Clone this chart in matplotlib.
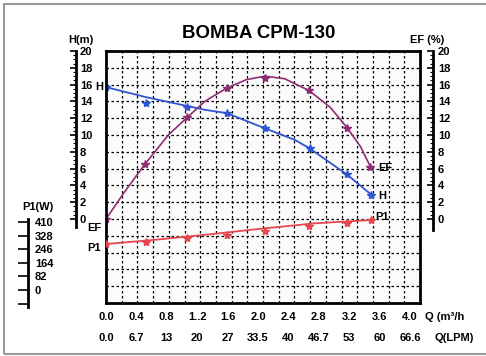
import matplotlib
matplotlib.use("Agg")
import matplotlib.pyplot as plt
import matplotlib.transforms as mtransforms
import matplotlib.patches as mpatches
import numpy as np

plt.rcParams["font.family"] = ["Liberation Sans", "DejaVu Sans"]
plt.rcParams["font.weight"] = "bold"

# --- data ---
q_labels = ["0.0", "0.4", "0.8", "1..2", "1.6", "2.0", "2.4", "2.8", "3.2", "3.6", "4.0"]
lpm_labels = ["0.0", "6.7", "13", "20", "27", "33.5", "40", "46.7", "53", "60", "66.6"]
q_label_pos = [0.0, 0.4, 0.8, 1.2, 1.6, 2.0, 2.4, 2.8, 3.2, 3.6, 4.0]

# head H (m)
h_line_q = [0.0, 0.53, 1.07, 1.30, 1.59, 2.09, 2.49, 2.68, 3.17, 3.49]
h_line = [15.7, 14.5, 13.45, 13.0, 12.6, 10.8, 9.4, 8.4, 5.3, 2.9]
h_pts_q = [0.0, 0.53, 1.07, 1.59, 2.09, 2.68, 3.17, 3.49]
h_pts = [15.7, 13.8, 13.3, 12.6, 10.8, 8.45, 5.3, 2.9]

# efficiency EF (%)
ef_line_q = [0.0, 0.25, 0.51, 0.82, 1.07, 1.30, 1.59, 1.85, 2.09, 2.35, 2.67, 2.95, 3.17, 3.35, 3.48]
ef_line = [0.0, 3.3, 6.5, 10.0, 12.1, 14.0, 15.6, 16.6, 17.0, 16.7, 15.3, 13.3, 10.9, 8.6, 6.2]
ef_pts_q = [0.0, 0.51, 1.07, 1.59, 2.09, 2.67, 3.17, 3.48]
ef_pts = [0.0, 6.5, 12.1, 15.6, 16.75, 15.3, 10.8, 6.2]

# input power P1 (W)
p1_line_q = [0.0, 0.7, 1.37, 2.05, 2.75, 3.49]
p1_line = [277, 305, 336, 370, 402, 422]
p1_pts_q = [0.0, 0.53, 1.07, 1.59, 2.09, 2.67, 3.17, 3.49]
p1_pts = [276, 288, 312, 332, 356, 388, 402, 422]
p1_ticks = [410, 328, 246, 164, 82, 0, -82]

BLUE = "#2f55d4"
PURPLE = "#8e2d72"
RED = "#e8474f"

W, H = 486, 356
fig = plt.figure(figsize=(W / 100, H / 100), dpi=100)


def px_axes(x0, y0, x1, y1):
    return fig.add_axes([x0 / W, 1 - y1 / H, (x1 - x0) / W, (y1 - y0) / H])


def ftext(x, y, s, **kw):
    kw.setdefault("fontsize", 8)
    kw.setdefault("va", "center")
    kw.setdefault("fontweight", "bold")
    return fig.text(x / W, 1 - y / H, s, **kw)


# outer frame of the scan
fig.patches.append(mpatches.Rectangle((4 / W, 1 - 354 / H), 490 / W, 350 / H,
                                      transform=fig.transFigure, fill=False,
                                      edgecolor="#9a9a9a", lw=1.5))

# main grid box
ax = px_axes(106, 51, 420, 303)
xmax = 314 / 76
ax.set_xlim(0, xmax)
ax.set_ylim(-10, 20)
ax.set_xticks(np.linspace(0, xmax, 21)[1:-1])
ax.set_yticks(np.arange(-8, 20, 2))
ax.tick_params(length=0, labelbottom=False, labelleft=False)
ax.grid(True, color="black", linestyle=(0, (2, 2)), lw=0.9)
for s in ax.spines.values():
    s.set_linewidth(2)
ax.set_facecolor("#fbfbfb")

ax.plot(h_line_q, h_line, color=BLUE, lw=1.3)
ax.plot(h_pts_q, h_pts, "*", color=BLUE, ms=6)
ax.plot(ef_line_q, ef_line, color=PURPLE, lw=1.2)
ax.plot(ef_pts_q, ef_pts, "*", color=PURPLE, ms=6)

axp = ax.twinx()
axp.set_ylim(-78.4, 1441)
axp.axis("off")
axp.plot(p1_line_q, p1_line, color=RED, lw=1.3)
axp.plot(p1_pts_q, p1_pts, "*", color=RED, ms=6)

# Q tick label rows under the box
trans = mtransforms.blended_transform_factory(ax.transData, ax.transAxes)
for pos, a, b in zip(q_label_pos, q_labels, lpm_labels):
    ax.text(pos, -0.056, a, transform=trans, ha="center", va="center", fontsize=8)
    ax.text(pos, -0.139, b, transform=trans, ha="center", va="center", fontsize=8)
ftext(425, 317, "Q (m³/h", ha="left")
ftext(434, 338, "Q(LPM)", ha="left")


def side_axis(x, y0, y1, lo, hi, ticks, labels, major_len, gap, minor=None):
    a = px_axes(x, y0, x + 1, y1)
    a.set_ylim(lo, hi)
    a.set_xticks([])
    a.patch.set_alpha(0)
    for k in ("top", "right", "bottom"):
        a.spines[k].set_visible(False)
    a.spines["left"].set_linewidth(2)
    a.set_yticks(ticks)
    a.set_yticklabels(labels, fontsize=8, fontweight="bold")
    if minor is not None:
        a.set_yticks(minor, minor=True)
    a.tick_params(axis="y", which="both", left=True, right=False,
                  labelleft=False, labelright=True, direction="out")
    # label offset counts the tick length, so pull it back
    a.tick_params(axis="y", which="major", length=major_len, width=1.2,
                  pad=gap - major_len)
    a.tick_params(axis="y", which="minor", length=2, width=0.8)
    return a


hv = list(range(0, 21, 2))
side_axis(75.7, 51, 227, -0.952, 20, hv, [str(v) for v in hv], 4, 2.2,
          minor=np.arange(0, 20.5, 0.5))
side_axis(432.7, 51, 230, -1.31, 20, hv, [str(v) for v in hv], 4, 3.0,
          minor=np.arange(0, 20.5, 0.5))
side_axis(28, 219, 307, -102.5, 428, p1_ticks,
          [str(v) if v >= 0 else "" for v in p1_ticks], 7, 4.2)

# titles and curve tags
ftext(258.5, 33.5, "BOMBA CPM-130", ha="center", fontsize=13.4)
ftext(68, 40, "H(m)", ha="left")
ftext(410, 40, "EF (%)", ha="left")
ftext(22, 207, "P1(W)", ha="left")
ftext(103, 87, "H", ha="right")
ftext(101, 228, "EF", ha="right")
ftext(101, 248, "P1", ha="right")
ftext(378, 168, "EF", ha="left")
ftext(378, 196, "H", ha="left")
ftext(375, 217, "P1", ha="left")

fig.savefig("out.png", dpi=100)
